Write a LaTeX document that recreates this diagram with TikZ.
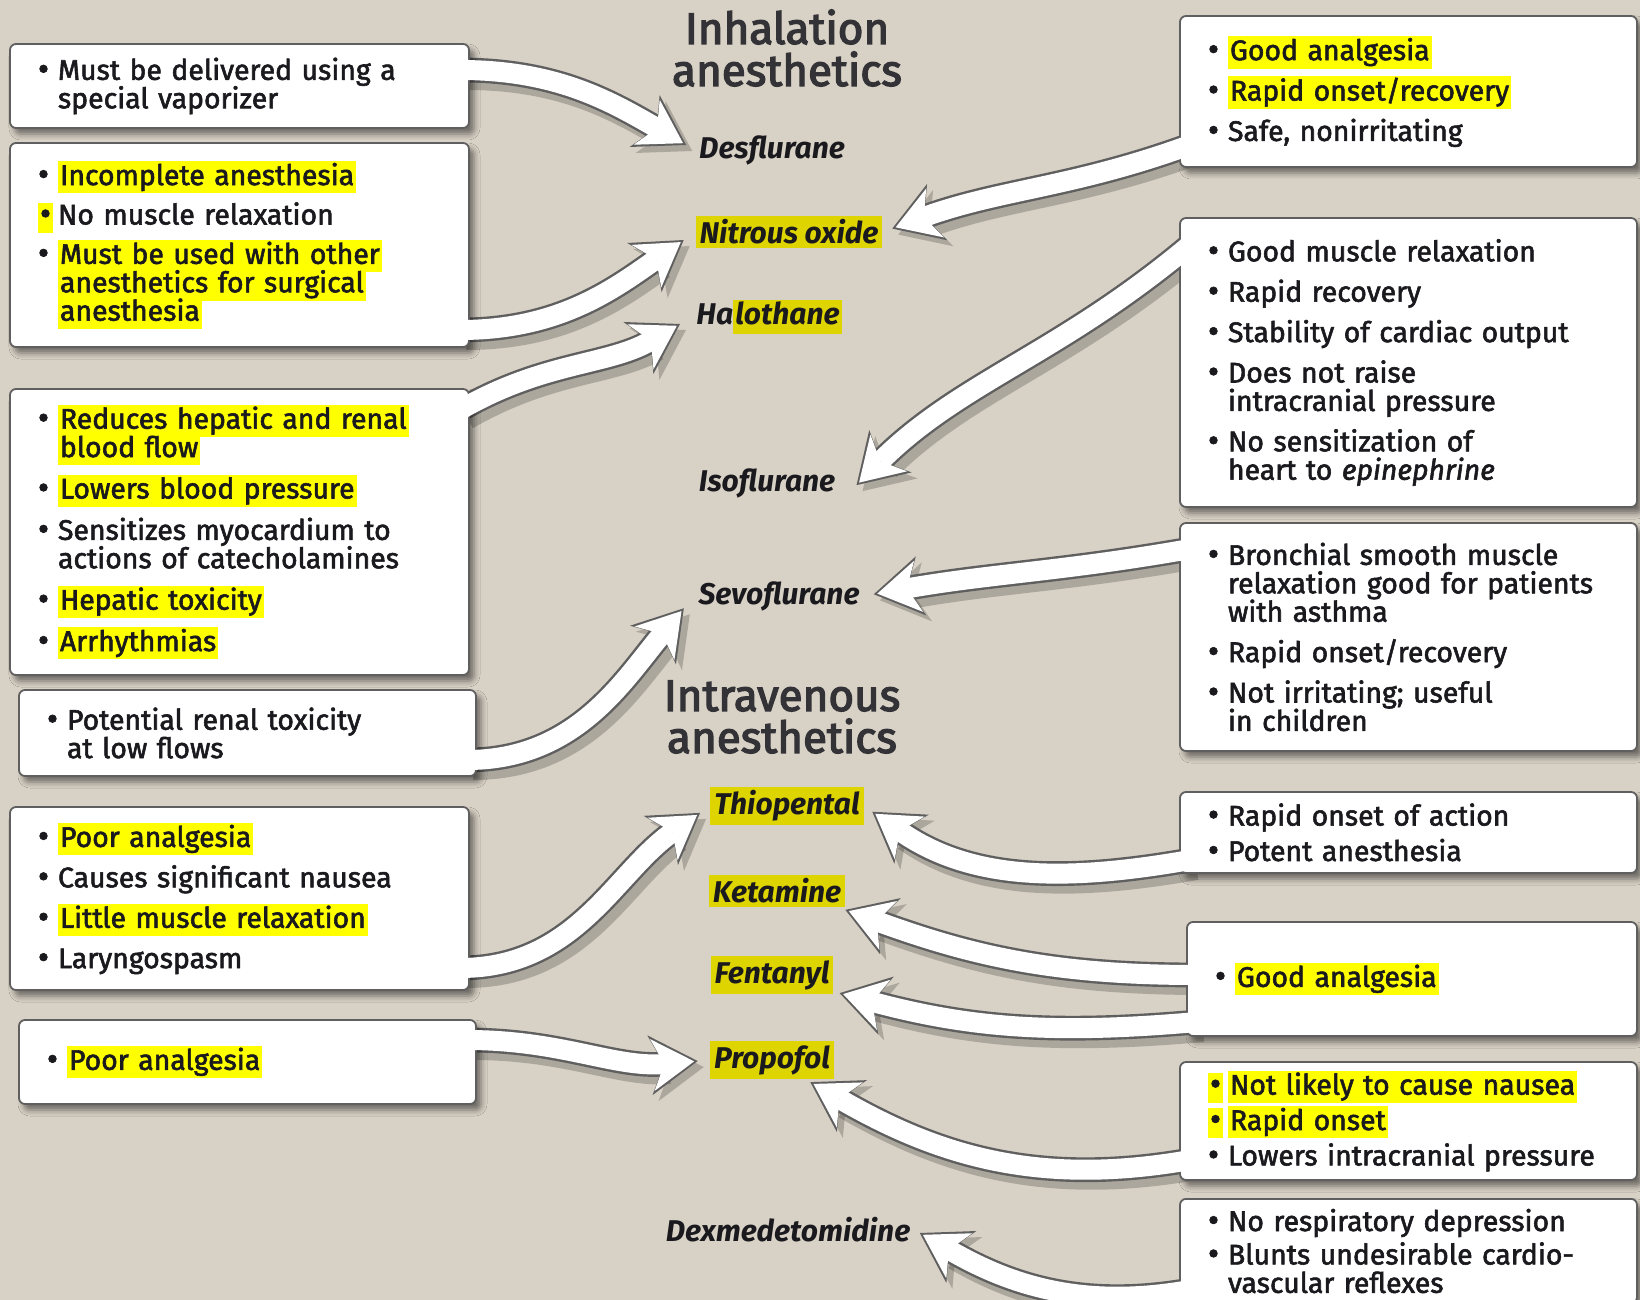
\documentclass[tikz,border=0pt]{standalone}
\usepackage{fontspec}
\setmainfont{Fira Sans}
\newfontfamily\bodyfam{Fira Sans}[FakeBold=2]
\newfontfamily\titlefam{Fira Sans}[FakeBold=3]
\usepackage{xcolor}
\usetikzlibrary{arrows.meta,shadows.blur}

\definecolor{paper}{RGB}{216,209,197}
\definecolor{boxline}{RGB}{95,95,95}
\definecolor{hlyel}{RGB}{255,255,0}
\definecolor{hldrug}{RGB}{222,212,0}
\definecolor{inkc}{RGB}{25,25,30}
\definecolor{titlec}{RGB}{50,50,55}

\pgfdeclarelayer{back}
\pgfsetlayers{back,main}

\newcommand\bodyfont{\bodyfam\fontsize{14.2}{14.2}\selectfont\lineskiplimit=-6pt}
\newcommand\hl[1]{{\setlength\fboxsep{1pt}\colorbox{hlyel}{\rule[-3.2pt]{0pt}{13pt}#1}}}
\newcommand\hld[1]{{\setlength\fboxsep{1pt}\colorbox{hldrug}{\rule[-3.6pt]{0pt}{14.4pt}#1}}}
\newcommand\bigdot{\raisebox{-0.3pt}{\fontsize{17}{14}\selectfont\textbullet}}
\newcommand\bul{\makebox[10pt][l]{\bigdot}}
\newcommand\hbul{\makebox[10pt][l]{\hl{\bigdot}}}
\newcommand\ind{\hspace*{10pt}}

\begin{document}
\begin{tikzpicture}[
  x=0.5pt, y=0.5pt,
  box/.style={draw=boxline,line width=0.9pt,fill=white,rounded corners=3pt,inner xsep=14pt,inner ysep=4pt,
    text width=#1,align=left,font=\bodyfont,text=inkc,
    blur shadow={shadow xshift=2.5pt,shadow yshift=-3pt,shadow blur radius=3pt,shadow opacity=50}},
  title/.style={font=\titlefam\fontsize{22}{21}\selectfont,text=titlec,align=center},
  drug/.style={font=\fontsize{15}{16}\selectfont\bfseries\itshape,text=inkc,inner sep=2pt},
  hdrug/.style={drug,fill=hldrug},
  arrowshadow/.style={draw=black,opacity=0.2,line width=14pt,transform canvas={shift={(3pt,-3pt)}},
    -{Stealth[length=24pt,width=30pt,inset=7pt,line width=0pt]}},
  arrowrim/.style={draw=boxline,line width=12.4pt,-{Stealth[length=24pt,width=30pt,inset=7pt,line width=0pt]}},
  arrowbody/.style={draw=white,line width=10pt,-{Stealth[length=21pt,width=26pt,inset=6pt,line width=0pt]}}
]
\useasboundingbox (0,0) rectangle (1640,-1300);
% titles and drugs
\node[title] (inh) at (787,-48) {Inhalation\\anesthetics};
\node[title] (iv) at (782,-717) {Intravenous\\anesthetics};
\node[drug] (desf) at (772,-150) {Desflurane};
\node[hdrug] (nitr) at (789,-232) {Nitrous oxide};
\node[drug] (halo) at (769,-317) {Ha\hld{lothane}};
\node[drug] (iso) at (767,-483) {Isoflurane};
\node[drug] (sevo) at (779,-596) {Sevoflurane};
\node[hdrug] (thio) at (787,-806) {Thiopental};
\node[hdrug] (keta) at (777,-891) {Ketamine};
\node[hdrug] (fent) at (772,-975) {Fentanyl};
\node[hdrug] (prop) at (772,-1060) {Propofol};
\node[drug] (dexm) at (788,-1230) {Dexmedetomidine};

% left boxes
\node[box=201.5pt,minimum height=42pt] (vapor) at (239.5,-86) {\bul Must be delivered using a\\\ind special vaporizer};
\node[box=201.5pt,minimum height=102pt] (nitrcons) at (239.5,-245) {\bul\hl{Incomplete anesthesia}\\[5.5pt]
  \hbul No muscle relaxation\\[5.5pt]
  \bul\hl{Must be used with other}\\\ind\hl{anesthetics for surgical}\\\ind\hl{anesthesia}};
\node[box=201.5pt,minimum height=143pt] (halocons) at (239.5,-532) {\bul\hl{Reduces hepatic and renal}\\\ind\hl{blood flow}\\[6.5pt]
  \bul\hl{Lowers blood pressure}\\[6.5pt]
  \bul Sensitizes myocardium to\\\ind actions of catecholamines\\[6.5pt]
  \bul\hl{Hepatic toxicity}\\[6.5pt]
  \bul\hl{Arrhythmias}};
\node[box=200.5pt,minimum height=43pt] (sevocons) at (247.5,-733) {\bul Potential renal toxicity\\\ind at low flows};
\node[box=201.5pt,minimum height=91.5pt] (thiocons) at (239.5,-898.5) {\bul\hl{Poor analgesia}\\[6pt]
  \bul Causes significant nausea\\[6pt]
  \bul\hl{Little muscle relaxation}\\[6pt]
  \bul Laryngospasm};
\node[box=200.5pt,minimum height=42pt] (propcons) at (247.5,-1062) {\bul\hl{Poor analgesia}};

% right boxes
\node[box=200.5pt,minimum height=75.5pt] (nitrpros) at (1408.5,-91.5) {\bul\hl{Good analgesia}\\[6pt]
  \bul\hl{Rapid onset/recovery}\\[6pt]
  \bul Safe, nonirritating};
\node[box=200.5pt,minimum height=144.5pt] (isopros) at (1408.5,-362.5) {\bul Good muscle relaxation\\[6pt]
  \bul Rapid recovery\\[6pt]
  \bul Stability of cardiac output\\[6pt]
  \bul Does not raise\\\ind intracranial pressure\\[6pt]
  \bul No sensitization of\\\ind heart to \textit{epinephrine}};
\node[box=200.5pt,minimum height=114pt] (sevopros) at (1408.5,-637) {\bul Bronchial smooth muscle\\\ind relaxation good for patients\\\ind with asthma\\[6pt]
  \bul Rapid onset/recovery\\[6pt]
  \bul Not irritating; useful\\\ind in children};
\node[box=200.5pt,minimum height=40.5pt] (thiopros) at (1408.5,-832.5) {\bul Rapid onset of action\\[3.5pt]
  \bul Potent anesthesia};
\node[box=197pt,minimum height=57pt] (opipros) at (1412,-979) {\bul\hl{Good analgesia}};
\node[box=200.5pt,minimum height=59pt] (proppros) at (1408.5,-1121) {\hbul\hl{Not likely to cause nausea}\\[3.5pt]
  \hbul\hl{Rapid onset}\\[3.5pt]
  \bul Lowers intracranial pressure};
\node[box=200.5pt,anchor=north,inner ysep=5pt] (dexpros) at (1408.5,-1198) {\bul No respiratory depression\\[2.5pt]
  \bul Blunts undesirable cardio-\\\ind vascular reflexes};

% tails
\coordinate (t1) at (460,-70);
\coordinate (t2) at (460,-330);
\coordinate (t3) at (460,-410);
\coordinate (t4) at (467,-760);
\coordinate (t5) at (460,-968);
\coordinate (t6) at (467,-1040);
\coordinate (r1) at (1190,-145);
\coordinate (r2) at (1190,-245);
\coordinate (r3) at (1190,-549);
\coordinate (r4) at (1190,-860);
\coordinate (r5) at (1197,-975);
\coordinate (r6) at (1197,-1022);
\coordinate (r7) at (1190,-1160);
\coordinate (r8) at (1190,-1290);

\def\arrowlist{t1/desf.west/0/150/5,t2/nitr.west/0/215/7,t3/halo.west/30/210/7,t4/sevo.west/0/230/8,
  t5/thio.west/0/215/6,t6/prop.west/0/185/6,r1/nitr.east/200/20/5,r2/iso.south east/220/45/12,
  r3/sevo.east/190/10/5,r4/thio.east/190/-35/5,r5/keta.-15/180/-20/3,r6/fent.-15/185/-15/3,
  r7/prop.-30/190/-30/3,r8/dexm.east/190/-30/3}

\begin{pgfonlayer}{back}
  \fill[paper] (0,0) rectangle (1640,-1300);
  \foreach \s/\e/\o/\i/\g in \arrowlist
    \draw[arrowshadow,shorten >=\g pt] (\s) to[out=\o,in=\i] (\e);
  \foreach \s/\e/\o/\i/\g in \arrowlist
    \draw[arrowrim,shorten >=\g pt] (\s) to[out=\o,in=\i] (\e);
\end{pgfonlayer}
\foreach \s/\e/\o/\i/\g in \arrowlist
  \draw[arrowbody,shorten >=\g pt+1.8pt] (\s) to[out=\o,in=\i] (\e);
\end{tikzpicture}
\end{document}
